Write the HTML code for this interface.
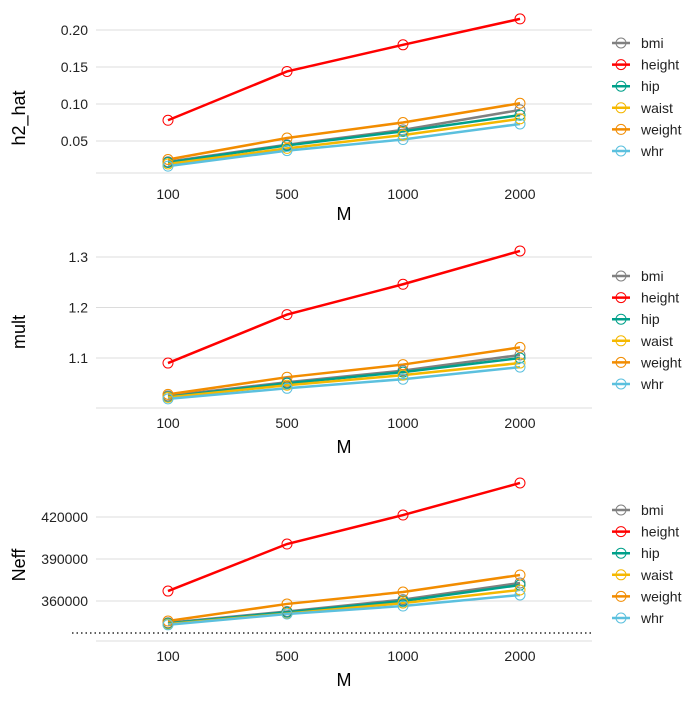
<!DOCTYPE html>
<html><head><meta charset="utf-8"><style>
body{margin:0;background:#fff;font-family:"Liberation Sans",sans-serif}
</style></head><body>
<svg id="chart" width="700" height="700" xmlns="http://www.w3.org/2000/svg" font-family="Liberation Sans, sans-serif"></svg>
<script>
const categories=["100","500","1000","2000"];
const seriesNames=["bmi","height","hip","waist","weight","whr"];
const seriesColors=["#808080","#ff0000","#00a08a","#f5b800","#f28c00","#5bc0de"];
const h2Bmi=[0.022,0.045,0.065,0.092];
const h2Height=[0.078,0.144,0.180,0.215];
const h2Hip=[0.021,0.044,0.063,0.085];
const h2Waist=[0.019,0.040,0.058,0.080];
const h2Weight=[0.025,0.054,0.075,0.101];
const h2Whr=[0.016,0.037,0.052,0.073];
const multBmi=[1.025,1.052,1.075,1.106];
const multHeight=[1.090,1.186,1.246,1.312];
const multHip=[1.023,1.050,1.072,1.100];
const multWaist=[1.022,1.046,1.066,1.090];
const multWeight=[1.028,1.062,1.087,1.121];
const multWhr=[1.019,1.040,1.058,1.082];
const neffBmi=[344500,352500,361000,372900];
const neffHeight=[367100,400700,421400,444300];
const neffHip=[344000,352000,360000,371400];
const neffWaist=[343500,351000,358500,367900];
const neffWeight=[345700,357900,366400,378600];
const neffWhr=[343000,350700,356400,364300];
const h2Ticks=[0.05,0.10,0.15,0.20];
const h2TickLabels=["0.05","0.10","0.15","0.20"];
const multTicks=[1.1,1.2,1.3];
const multTickLabels=["1.1","1.2","1.3"];
const neffTicks=[360000,390000,420000];
const neffTickLabels=["360000","390000","420000"];
const neffRef=[337143];

const NS="http://www.w3.org/2000/svg";
const svg=document.getElementById('chart');
function mk(tag,attrs,parent){const e=document.createElementNS(NS,tag);for(const k in attrs)e.setAttribute(k,attrs[k]);(parent||svg).appendChild(e);return e;}
const catX=[168,287,403,520];
function xScale(i){return catX[i];}

const panels=[
 {name:"h2-hat",title:"h2_hat",data:[h2Bmi,h2Height,h2Hip,h2Waist,h2Weight,h2Whr],ticks:h2Ticks,labels:h2TickLabels,v0:0.05,y0:141,v1:0.20,y1:30,bottom:173,legendY:43,titleY:118,xLabY:199,mY:220,ref:null},
 {name:"mult",title:"mult",data:[multBmi,multHeight,multHip,multWaist,multWeight,multWhr],ticks:multTicks,labels:multTickLabels,v0:1.1,y0:358,v1:1.3,y1:257,bottom:408,legendY:276,titleY:332,xLabY:428,mY:453,ref:null},
 {name:"neff",title:"Neff",data:[neffBmi,neffHeight,neffHip,neffWaist,neffWeight,neffWhr],ticks:neffTicks,labels:neffTickLabels,v0:360000,y0:601,v1:420000,y1:517,bottom:641,legendY:510,titleY:565,xLabY:661,mY:686,ref:neffRef}
];
panels.forEach(p=>{
 const g=mk('g',{});
 
 
 const ys=v=>p.y0+(v-p.v0)*(p.y1-p.y0)/(p.v1-p.v0);
 p.ticks.forEach((t,i)=>{
  const l=mk('line',{x1:96,x2:592,y1:ys(t),y2:ys(t),stroke:'#dcdcdc','stroke-width':1},g);
  
  const tx=mk('text',{x:88,y:ys(t)+5,'text-anchor':'end','font-size':14,fill:'#222'},g);tx.textContent=p.labels[i];
  
 });
 const bl=mk('line',{x1:96,x2:592,y1:p.bottom,y2:p.bottom,stroke:'#dcdcdc','stroke-width':1},g);
 
 if(p.ref){const r=mk('line',{x1:72,x2:592,y1:ys(p.ref[0]),y2:ys(p.ref[0]),stroke:'#000','stroke-width':1.2,'stroke-dasharray':'1.5,3'},g);
  }
 categories.forEach((c,i)=>{const t=mk('text',{x:xScale(i),y:p.xLabY,'text-anchor':'middle','font-size':14,fill:'#222'},g);t.textContent=c;
  });
 const mt=mk('text',{x:344,y:p.mY,'text-anchor':'middle','font-size':18,fill:'#000'},g);mt.textContent='M';
 
 const yt=mk('text',{x:0,y:0,'text-anchor':'middle','font-size':18,fill:'#000',transform:`translate(25,${p.titleY}) rotate(-90)`},g);yt.textContent=p.title;
 
 p.data.forEach((s,si)=>{
  const pts=s.map((v,i)=>xScale(i)+','+ys(v)).join(' ');
  const pl=mk('polyline',{points:pts,fill:'none',stroke:seriesColors[si],'stroke-width':2.5},g);
  
 });
 p.data.forEach((s,si)=>{s.forEach((v,i)=>{
  const c=mk('circle',{cx:xScale(i),cy:ys(v),r:5,fill:'none',stroke:seriesColors[si],'stroke-width':1},g);
  
 });});
 seriesNames.forEach((n,si)=>{
  const y=p.legendY+si*21.6;
  const lg=mk('g',{},g);
  
  mk('line',{x1:612,x2:630,y1:y,y2:y,stroke:seriesColors[si],'stroke-width':2.5},lg);
  mk('circle',{cx:621,cy:y,r:5,fill:'none',stroke:seriesColors[si],'stroke-width':1},lg);
  const t=mk('text',{x:641,y:y+5,'font-size':14,fill:'#222'},lg);t.textContent=n;
 });
});
</script>
</body></html>
